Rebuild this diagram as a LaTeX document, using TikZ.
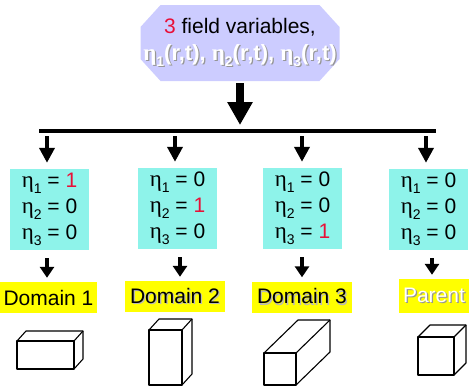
\documentclass[tikz,border=0pt]{standalone}
\usepackage{fontspec}
\setmainfont{Liberation Sans}
\newfontfamily\greekserif{Liberation Serif}
\usetikzlibrary{arrows.meta}

\definecolor{lavender}{RGB}{204,204,255}
\definecolor{aqua}{RGB}{142,243,234}
\definecolor{hiyellow}{RGB}{255,255,0}
\definecolor{onered}{RGB}{232,16,56}
\definecolor{shadowgray}{RGB}{150,150,150}
\definecolor{softgray}{RGB}{185,185,185}

% eta with a lowered index
\newcommand\etaidx[1]{{\greekserif\fontsize{23}{23}\selectfont η}\raisebox{-0.3em}{\fontsize{14}{14}\selectfont #1}}
% text with a grey drop shadow: {text colour}{shadow colour}{text}
\newcommand\dropshadow[3]{\leavevmode\rlap{\kern1.2pt\raisebox{-1.2pt}{\color{#2}#3}}{\color{#1}#3}}
% open cuboid: front face at (x,y) of size w x h, receding by (dx,dy)
\newcommand\cuboid[6]{%
  \draw[cubeline] (#1,#2) rectangle ++(#3,#4);
  \draw[cubeline] (#1,#2) -- ++(#5,-#6) -- ++(#3,0) -- ++(0,#4) -- ++(-#5,#6);
  \draw[cubeline] (#1+#3,#2) -- ++(#5,-#6);}

\begin{document}
\begin{tikzpicture}[x=1pt,y=-1pt,
  every node/.style={font=\fontsize{21}{26}\selectfont},
  fieldbox/.style={rectangle, minimum width=199pt, minimum height=76pt,
    inner sep=0pt, align=center,
    path picture={\fill[lavender]
      ([xshift=20pt]path picture bounding box.north west) --
      ([xshift=-20pt]path picture bounding box.north east) --
      ([yshift=-22pt]path picture bounding box.north east) --
      ([yshift=22pt]path picture bounding box.south east) --
      ([xshift=-20pt]path picture bounding box.south east) --
      ([xshift=20pt]path picture bounding box.south west) --
      ([yshift=22pt]path picture bounding box.south west) --
      ([yshift=-22pt]path picture bounding box.north west) -- cycle;}},
  valbox/.style={rectangle, fill=aqua, minimum width=79pt, minimum height=81pt,
    inner sep=0pt, align=center},
  domainbox/.style={rectangle, fill=hiyellow, minimum height=31pt, inner sep=0pt},
  bigarrow/.style={line width=8pt, -{Triangle[width=24pt,length=23pt]}},
  downarrow/.style={line width=4pt, -{Triangle[width=15pt,length=15pt]}},
  shortarrow/.style={line width=4.5pt, -{Triangle[width=14pt,length=11pt]}},
  cubeline/.style={line width=1.1pt, line join=round},
]
\useasboundingbox (0,0) rectangle (469,386);

% field variables
\node[fieldbox] (vars) at (240,43)
  {{\color{onered}3} field variables,\\[1pt]
   \fontsize{22}{26}\selectfont\bfseries
   \dropshadow{white}{shadowgray}{\etaidx{1}(r,t), \etaidx{2}(r,t), \etaidx{3}(r,t)}};

% distribution bar
\coordinate (barL) at (39,131);
\coordinate (barR) at (436,131);
\draw[line width=4pt] (barL) -- (barR);
\draw[bigarrow, shorten <=2pt, shorten >=6pt] (vars.south) -- (vars.south |- barL);

% order-parameter values for each domain
\node[valbox] (b1) at (49.5,209.5) {\etaidx{1} = {\color{onered}1}\\\etaidx{2} = 0\\\etaidx{3} = 0};
\node[valbox] (b2) at (177.5,208.5) {\etaidx{1} = 0\\\etaidx{2} = {\color{onered}1}\\\etaidx{3} = 0};
\node[valbox] (b3) at (302.5,208.5) {\etaidx{1} = 0\\\etaidx{2} = 0\\\etaidx{3} = {\color{onered}1}};
\node[valbox] (b4) at (428.5,209.5) {\etaidx{1} = 0\\\etaidx{2} = 0\\\etaidx{3} = 0};

% domain labels
\node[domainbox, minimum width=97pt] (d1) at (48.5,297.5) {Domain 1};
\node[domainbox, minimum width=100pt] (d2) at (175,296.5) {\dropshadow{black}{softgray}{Domain 2}};
\node[domainbox, minimum width=100pt] (d3) at (302,297) {\dropshadow{black}{softgray}{Domain 3}};
\node[domainbox, minimum width=70pt, minimum height=34pt] (d4) at (434,296) {\dropshadow{white}{shadowgray}{Parent}};

% arrows from the bar to the value boxes
\coordinate (t1) at (47,131);
\coordinate (t2) at (175,131);
\coordinate (t3) at (302,131);
\coordinate (t4) at (426,131);
\foreach \i in {1,...,4}
  \draw[downarrow, shorten <=5pt, shorten >=6pt] (t\i) -- (t\i |- b\i.north);

% arrows from the value boxes to the domain labels
\coordinate (l1) at (47,0);
\coordinate (l2) at (180,0);
\coordinate (l3) at (302,0);
\coordinate (l4) at (432,0);
\foreach \i in {1,...,4}
  \draw[shortarrow, shorten <=8pt, shorten >=4pt] (l\i |- b\i.south) -- (l\i |- d\i.north);

% domain shapes
\cuboid{17}{341}{57}{28}{9}{10}
\cuboid{149}{330}{33}{55}{10}{11}
\cuboid{264}{353}{32}{32}{34}{33}
\cuboid{418}{337}{36}{38}{12}{12}
\end{tikzpicture}
\end{document}
